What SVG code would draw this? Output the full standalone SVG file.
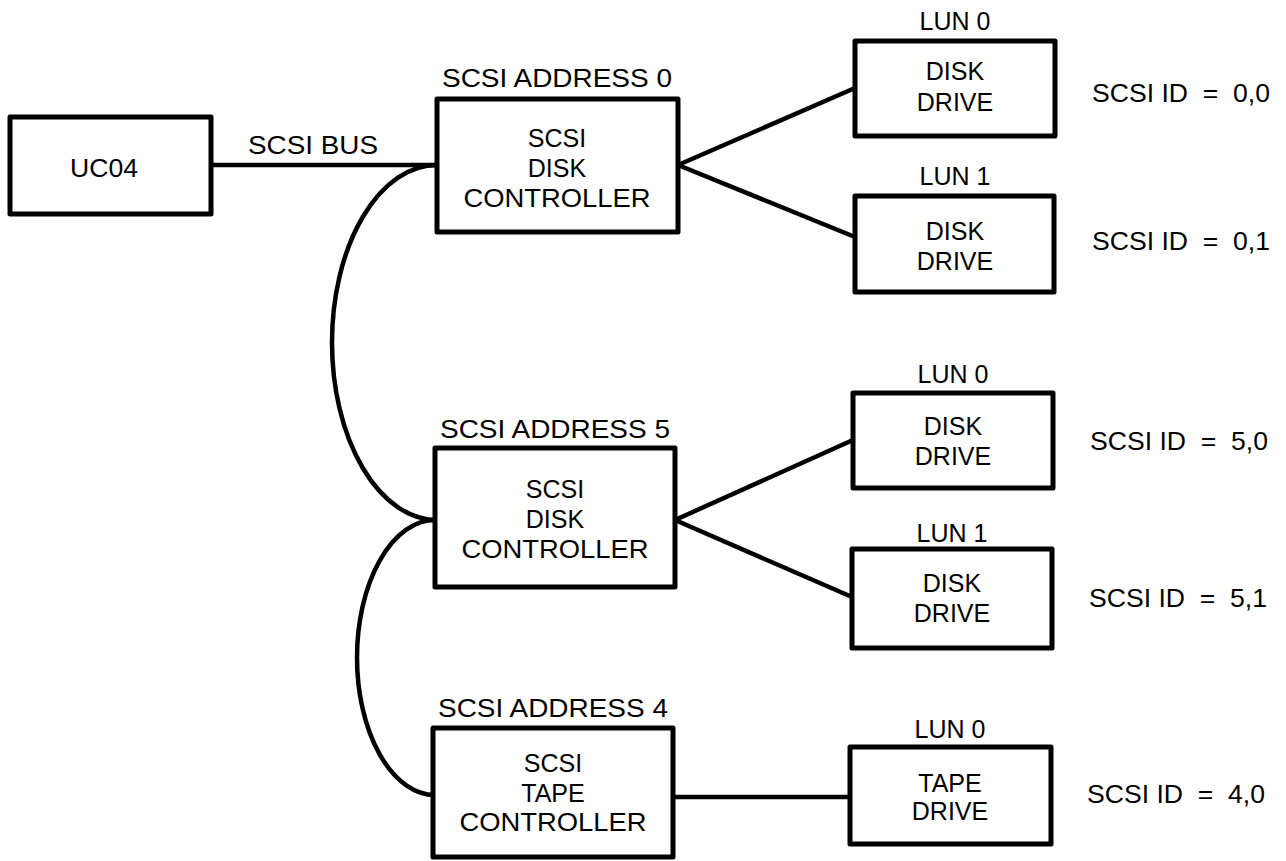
<svg xmlns="http://www.w3.org/2000/svg" width="1286" height="861" viewBox="0 0 1286 861">
<style>
.box{fill:#fff;stroke:#000;stroke-width:5;stroke-linejoin:round}
.ln{fill:none;stroke:#000;stroke-width:4.5}
text{font-family:"Liberation Sans",Arial,sans-serif;font-size:25px;fill:#000}
.c{text-anchor:middle}
</style>
<rect width="1286" height="861" fill="#fff"/>
<g id="connectors">
<line class="ln" x1="211" y1="165" x2="437" y2="165"/>
<text class="c" x="313" y="154" textLength="130" lengthAdjust="spacingAndGlyphs">SCSI BUS</text>
<path class="ln" d="M437,165 A105,177.5 0 0 0 437,520"/>
<path class="ln" d="M435,520 A78,137.5 0 0 0 435,795"/>
<line class="ln" x1="678" y1="165" x2="855" y2="88"/>
<line class="ln" x1="678" y1="165" x2="855" y2="237"/>
<line class="ln" x1="675" y1="520" x2="853" y2="440"/>
<line class="ln" x1="675" y1="520" x2="852" y2="597"/>
<line class="ln" x1="673" y1="797" x2="850" y2="797"/>
</g>
<g id="uc04">
<rect class="box" x="10" y="117" width="201" height="97"/>
<text class="c" x="104" y="177" textLength="68" lengthAdjust="spacingAndGlyphs">UC04</text>
</g>
<g id="ctrl0">
<text class="c" x="557" y="87" textLength="230" lengthAdjust="spacingAndGlyphs">SCSI ADDRESS 0</text>
<rect class="box" x="437" y="99" width="241" height="133"/>
<text class="c" x="557" y="147">SCSI</text>
<text class="c" x="557" y="177">DISK</text>
<text class="c" x="557" y="207" textLength="187" lengthAdjust="spacingAndGlyphs">CONTROLLER</text>
</g>
<g id="drive00">
<text class="c" x="955" y="30">LUN 0</text>
<rect class="box" x="855" y="41" width="200" height="95"/>
<text class="c" x="955" y="80">DISK</text>
<text class="c" x="955" y="111">DRIVE</text>
<text x="1092" y="102" xml:space="preserve" textLength="178" lengthAdjust="spacingAndGlyphs">SCSI ID  =  0,0</text>
</g>
<g id="drive01">
<text class="c" x="955" y="185">LUN 1</text>
<rect class="box" x="855" y="196" width="199" height="96"/>
<text class="c" x="955" y="240">DISK</text>
<text class="c" x="955" y="270">DRIVE</text>
<text x="1092" y="250" xml:space="preserve" textLength="178" lengthAdjust="spacingAndGlyphs">SCSI ID  =  0,1</text>
</g>
<g id="ctrl5">
<text class="c" x="555" y="438" textLength="230" lengthAdjust="spacingAndGlyphs">SCSI ADDRESS 5</text>
<rect class="box" x="435" y="448" width="240" height="139"/>
<text class="c" x="555" y="498">SCSI</text>
<text class="c" x="555" y="528">DISK</text>
<text class="c" x="555" y="558" textLength="187" lengthAdjust="spacingAndGlyphs">CONTROLLER</text>
</g>
<g id="drive50">
<text class="c" x="953" y="383">LUN 0</text>
<rect class="box" x="853" y="393" width="200" height="95"/>
<text class="c" x="953" y="435">DISK</text>
<text class="c" x="953" y="465">DRIVE</text>
<text x="1090" y="450" xml:space="preserve" textLength="178" lengthAdjust="spacingAndGlyphs">SCSI ID  =  5,0</text>
</g>
<g id="drive51">
<text class="c" x="952" y="542">LUN 1</text>
<rect class="box" x="852" y="549" width="200" height="99"/>
<text class="c" x="952" y="592">DISK</text>
<text class="c" x="952" y="622">DRIVE</text>
<text x="1089" y="607" xml:space="preserve" textLength="178" lengthAdjust="spacingAndGlyphs">SCSI ID  =  5,1</text>
</g>
<g id="ctrl4">
<text class="c" x="553" y="717" textLength="230" lengthAdjust="spacingAndGlyphs">SCSI ADDRESS 4</text>
<rect class="box" x="433" y="728" width="240" height="129"/>
<text class="c" x="553" y="772">SCSI</text>
<text class="c" x="553" y="802">TAPE</text>
<text class="c" x="553" y="831" textLength="187" lengthAdjust="spacingAndGlyphs">CONTROLLER</text>
</g>
<g id="tape40">
<text class="c" x="950" y="738">LUN 0</text>
<rect class="box" x="850" y="747" width="201" height="97"/>
<text class="c" x="950" y="792">TAPE</text>
<text class="c" x="950" y="820">DRIVE</text>
<text x="1087" y="803" xml:space="preserve" textLength="178" lengthAdjust="spacingAndGlyphs">SCSI ID  =  4,0</text>
</g>
</svg>
